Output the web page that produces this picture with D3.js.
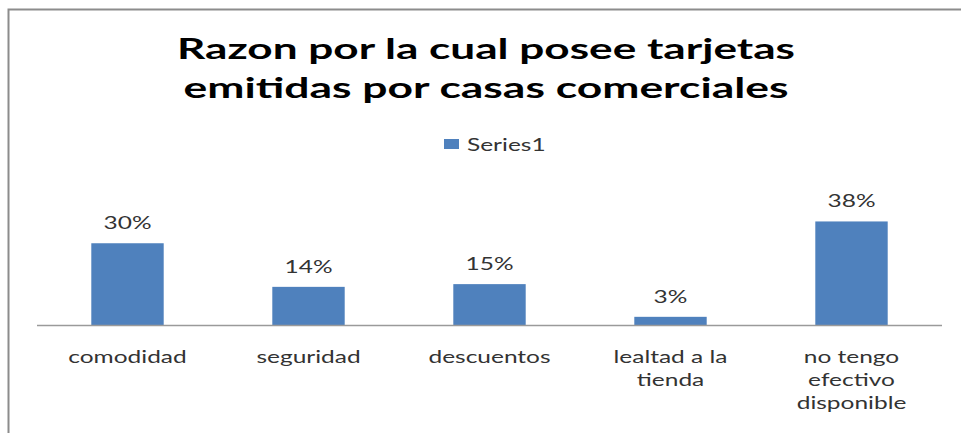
<!DOCTYPE html>
<html>
<head>
<meta charset="utf-8">
<script src="https://cdn.jsdelivr.net/npm/d3@7"></script>
<style>
  body { margin: 0; background: #fff; }
  svg { display: block; }
  text { font-family: Lato, "Open Sans", sans-serif; }
</style>
</head>
<body>
<svg class="chart"></svg>
<script>
var titleLines = ["Razon por la cual posee tarjetas", "emitidas por casas comerciales"];
var seriesName = "Series1";
var categories = ["comodidad", "seguridad", "descuentos", "lealtad a la tienda", "no tengo efectivo disponible"];
var categoryLines = [["comodidad"], ["seguridad"], ["descuentos"], ["lealtad a la", "tienda"], ["no tengo", "efectivo", "disponible"]];
var values = [0.30, 0.14, 0.15, 0.03, 0.38];

var W = 961, H = 433;
var sx = 1.36; // text in the picture is drawn wide

var svg = d3.select(".chart")
    .attr("width", W)
    .attr("height", H);

// outer frame (runs off the right and bottom edges)
svg.append("rect")
    .attr("x", 8.5)
    .attr("y", 9.5)
    .attr("width", 980)
    .attr("height", 460)
    .attr("fill", "none")
    .attr("stroke", "#8c8c8c")
    .attr("stroke-width", 2);

var x = d3.scaleBand()
    .domain(categories)
    .range([37, 942])
    .paddingInner(0.6)
    .paddingOuter(0.3);

var y = d3.scaleLinear()
    .domain([0, 0.4])
    .range([325, 216]);

var fmt = d3.format(".0%");

function place(sel, px, py) {
  sel.attr("transform", "translate(" + px + "," + py + ") scale(" + sx + ",1)");
}

// title
svg.selectAll(".title")
    .data(titleLines)
    .enter().append("text")
    .attr("class", "title")
    .attr("x", 486)
    .attr("y", function(d, i) { return 59 + i * 39; })
    .attr("text-anchor", "middle")
    .attr("textLength", function(d, i) { return i == 0 ? 618 : 605; })
    .attr("lengthAdjust", "spacingAndGlyphs")
    .style("font-size", "29px")
    .style("font-weight", "bold")
    .attr("fill", "#000")
    .text(function(d) { return d; });

// legend
var legend = svg.append("g").attr("class", "legend");
legend.append("rect")
    .attr("x", 444)
    .attr("y", 139)
    .attr("width", 15)
    .attr("height", 10)
    .attr("fill", "#4f81bd");
legend.append("text")
    .call(place, 467, 151)
    .style("font-size", "18px")
    .attr("fill", "#333")
    .text(seriesName);

// bars
svg.selectAll(".bar")
    .data(values)
    .enter().append("rect")
    .attr("class", "bar")
    .attr("x", function(d, i) { return x(categories[i]); })
    .attr("y", function(d) { return y(d); })
    .attr("width", x.bandwidth())
    .attr("height", function(d) { return y(0) - y(d); })
    .attr("fill", "#4f81bd");

// value labels
svg.selectAll(".vlabel")
    .data(values)
    .enter().append("text")
    .attr("class", "vlabel")
    .each(function(d, i) {
      d3.select(this).call(place, x(categories[i]) + x.bandwidth() / 2, y(d) - 14);
    })
    .attr("text-anchor", "middle")
    .style("font-size", "18px")
    .attr("fill", "#333")
    .text(function(d) { return fmt(d); });

// baseline axis
svg.append("line")
    .attr("x1", 37)
    .attr("x2", 942)
    .attr("y1", y(0) + 0.5)
    .attr("y2", y(0) + 0.5)
    .attr("stroke", "#9a9a9a")
    .attr("stroke-width", 1.5);

// category labels
var cats = svg.selectAll(".cat")
    .data(categoryLines)
    .enter().append("g")
    .attr("class", "cat");

cats.selectAll("text")
    .data(function(d, i) {
      return d.map(function(t, j) { return {text: t, i: i, j: j}; });
    })
    .enter().append("text")
    .each(function(d) {
      d3.select(this).call(place, x(categories[d.i]) + x.bandwidth() / 2, 363 + d.j * 23);
    })
    .attr("text-anchor", "middle")
    .style("font-size", "18px")
    .attr("fill", "#333")
    .text(function(d) { return d.text; });
</script>
</body>
</html>
